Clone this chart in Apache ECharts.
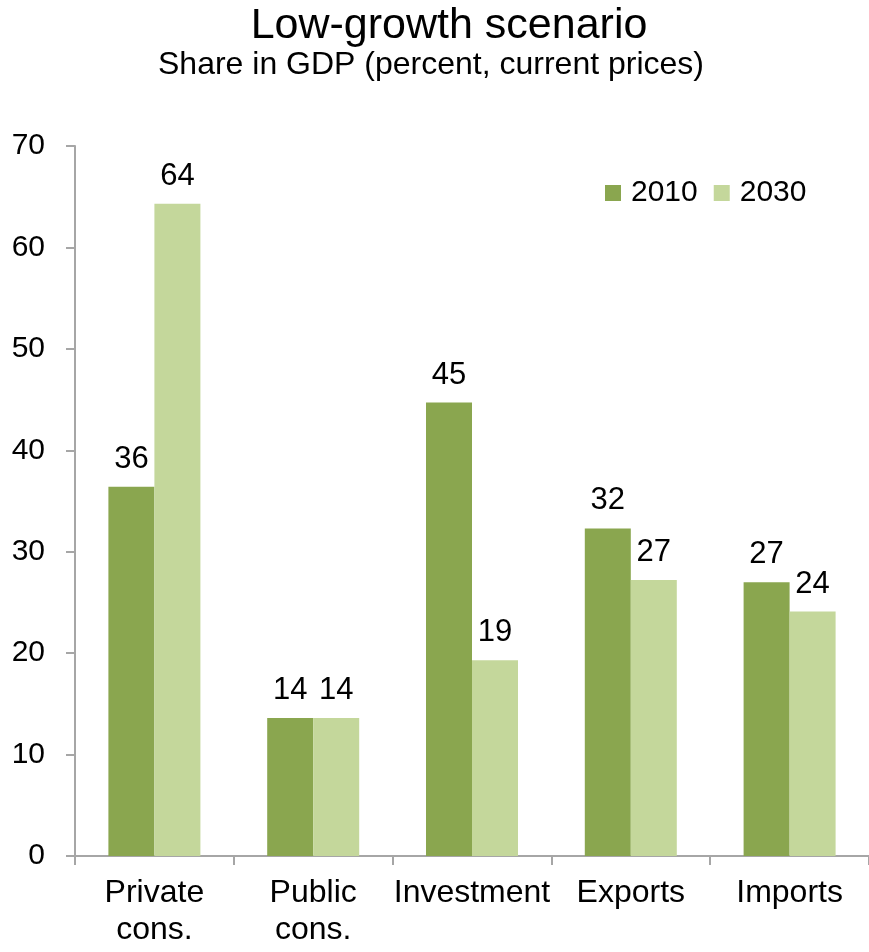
<!DOCTYPE html>
<html>
<head>
<meta charset="utf-8">
<script src="https://cdn.jsdelivr.net/npm/echarts@6/dist/echarts.min.js"></script>
<style>
  html, body { margin: 0; padding: 0; background: #fff; }
  #chart { width: 869px; height: 952px; }
</style>
</head>
<body>
<div id="chart"></div>
<script>
// Demand components, share in GDP (percent, current prices)
const categories = ['Private\ncons.', 'Public\ncons.', 'Investment', 'Exports', 'Imports'];
const values2010 = [36.4, 13.6, 44.7, 32.3, 27.0];
const values2030 = [64.3, 13.6, 19.3, 27.2, 24.1];
const seriesNames = ['2010', '2030'];

const FONT = '"Liberation Sans", Arial, sans-serif';
const chart = echarts.init(document.getElementById('chart'));

const labelStyle = {
  show: true,
  position: 'top',
  distance: 12,
  color: '#000',
  fontFamily: FONT,
  fontSize: 31,
  formatter: p => Math.round(p.value)
};

chart.setOption({
  animation: false,
  backgroundColor: '#fff',
  title: [
    {
      text: 'Low-growth scenario',
      left: 444, top: 0, textAlign: 'center',
      textStyle: { fontFamily: FONT, fontSize: 43, fontWeight: 'normal', color: '#000' }
    },
    {
      text: 'Share in GDP (percent, current prices)',
      left: 426, top: 44, textAlign: 'center',
      textStyle: { fontFamily: FONT, fontSize: 32, fontWeight: 'normal', color: '#000' }
    }
  ],
  legend: {
    data: seriesNames,
    left: 600, top: 173,
    itemWidth: 16, itemHeight: 16, itemGap: 16,
    icon: 'rect',
    textStyle: { fontFamily: FONT, fontSize: 30, color: '#000', padding: [0, 0, 0, 5] }
  },
  grid: { left: 75, top: 146, width: 797, height: 710, containLabel: false },
  xAxis: {
    type: 'category',
    data: categories,
    axisLine: { lineStyle: { color: '#a6a6a6', width: 2 } },
    axisTick: { show: true, length: 9, lineStyle: { color: '#a6a6a6', width: 2 } },
    axisLabel: {
      color: '#000', fontFamily: FONT, fontSize: 32, lineHeight: 37, margin: 19,
      interval: 0
    },
    splitLine: { show: false }
  },
  yAxis: {
    type: 'value',
    min: 0, max: 70, interval: 10,
    axisLine: { show: true, lineStyle: { color: '#a6a6a6', width: 2 } },
    axisTick: { show: true, length: 9, lineStyle: { color: '#a6a6a6', width: 2 } },
    axisLabel: { color: '#000', fontFamily: FONT, fontSize: 30, margin: 30 },
    splitLine: { show: false }
  },
  series: [
    {
      name: seriesNames[0], type: 'bar', data: values2010,
      barWidth: 46, barGap: '0%',
      itemStyle: { color: '#8aa64f' },
      label: labelStyle
    },
    {
      name: seriesNames[1], type: 'bar', data: values2030,
      barWidth: 46, barGap: '0%',
      itemStyle: { color: '#c4d79b' },
      label: labelStyle
    }
  ]
});
</script>
</body>
</html>
